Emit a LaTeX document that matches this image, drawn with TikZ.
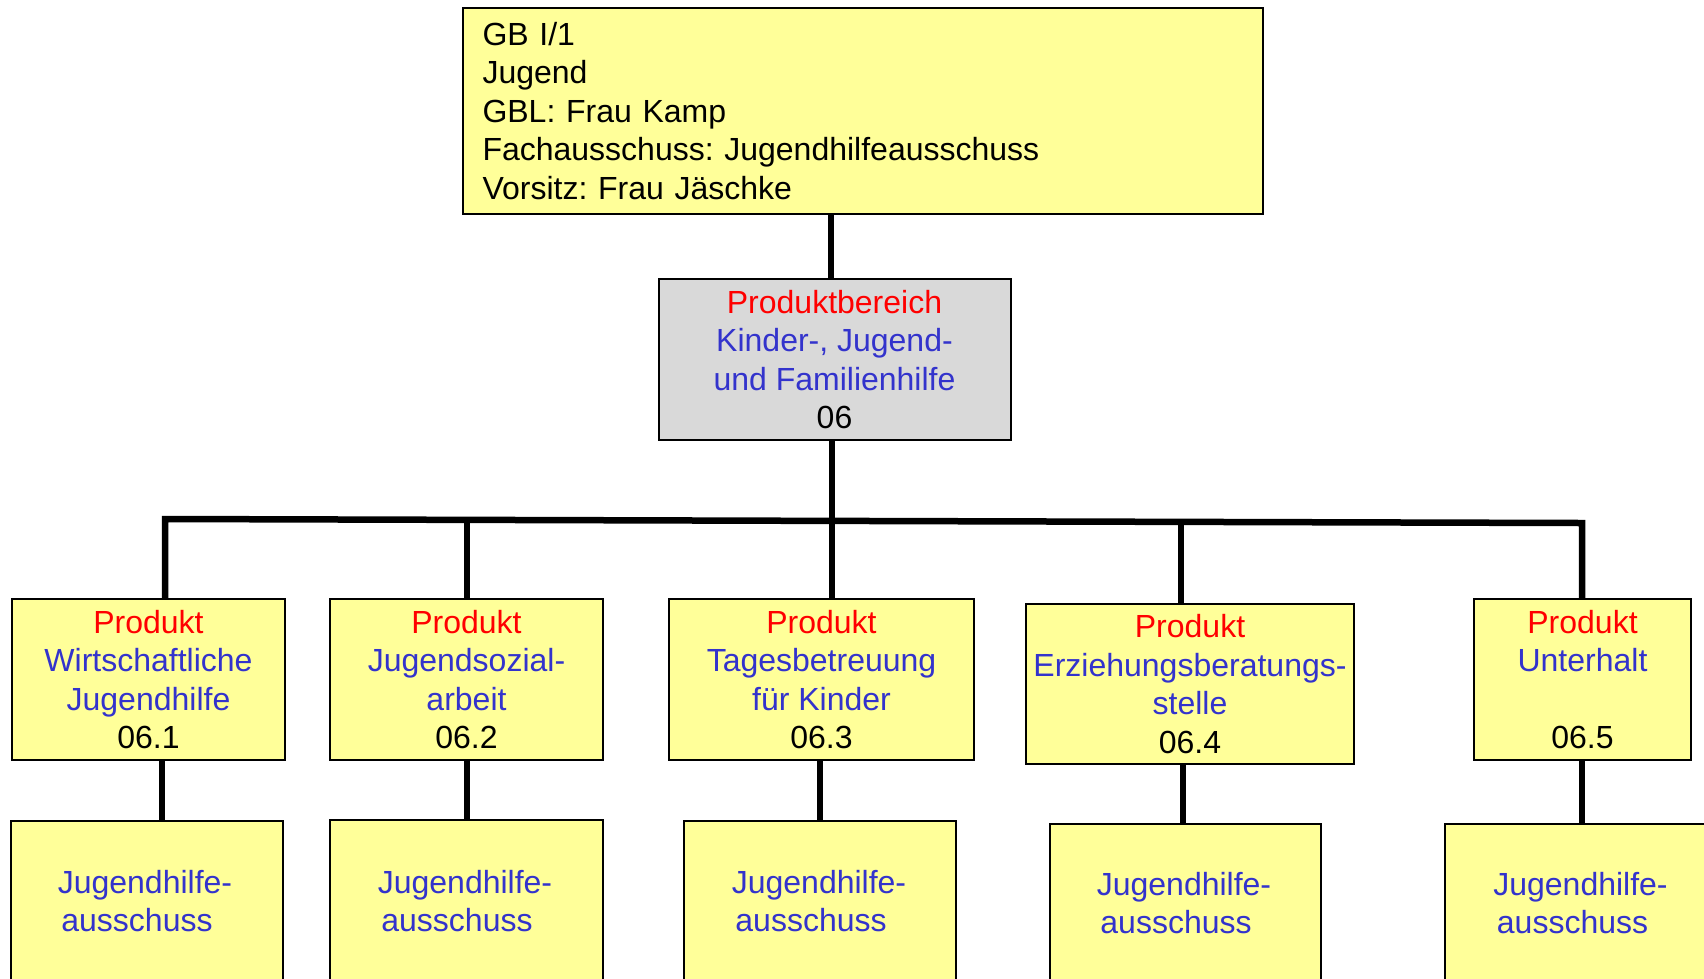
\documentclass[tikz,border=0pt]{standalone}
\usepackage{fontspec}
\setmainfont{Liberation Sans}
\definecolor{boxyellow}{HTML}{FFFF99}
\definecolor{boxgrey}{HTML}{D9D9D9}
\definecolor{txtblue}{HTML}{3333CC}
\definecolor{txtred}{HTML}{FF0000}
\begin{document}
\frenchspacing
\begin{tikzpicture}[x=1pt,y=1pt,
  every node/.style={font=\fontsize{32}{38.5}\selectfont},
  boxy/.style={draw=black, line width=2pt, fill=boxyellow, inner sep=0pt, align=center},
  lowbox/.style={boxy, anchor=north, minimum height=300pt},
  lowtext/.style={text=txtblue, align=center, inner sep=0pt},
  conn/.style={line width=6.5pt}]
\useasboundingbox (0,0) rectangle (1704,-978);

% top box
\node[boxy, minimum width=800pt, minimum height=206pt, text width=761pt, align=left, inner xsep=19.5pt] (top) at (863,-111)
  {GB I/1\\Jugend\\GBL: Frau Kamp\\Fachausschuss: Jugendhilfeausschuss\\Vorsitz: Frau Jäschke};

% product area
\node[boxy, fill=boxgrey, minimum width=352pt, minimum height=161pt] (g) at (834.5,-359.5)
  {\textcolor{txtred}{Produktbereich}\\\textcolor{txtblue}{Kinder-, Jugend-}\\\textcolor{txtblue}{und Familienhilfe}\\06};

% products
\node[boxy, minimum width=273pt, minimum height=161pt] (p1) at (148.5,-679.5)
  {\textcolor{txtred}{Produkt}\\\textcolor{txtblue}{Wirtschaftliche}\\\textcolor{txtblue}{Jugendhilfe}\\06.1};
\node[boxy, minimum width=273pt, minimum height=161pt] (p2) at (466.5,-679.5)
  {\textcolor{txtred}{Produkt}\\\textcolor{txtblue}{Jugendsozial-}\\\textcolor{txtblue}{arbeit}\\06.2};
\node[boxy, minimum width=305pt, minimum height=161pt] (p3) at (821.5,-679.5)
  {\textcolor{txtred}{Produkt}\\\textcolor{txtblue}{Tagesbetreuung}\\\textcolor{txtblue}{für Kinder}\\06.3};
\node[boxy, minimum width=328pt, minimum height=160pt] (p4) at (1190,-684)
  {\textcolor{txtred}{Produkt}\\\textcolor{txtblue}{Erziehungsberatungs-}\\\textcolor{txtblue}{stelle}\\06.4};
\node[boxy, minimum width=217.5pt, minimum height=161pt] (p5) at (1582.5,-679.5)
  {\textcolor{txtred}{Produkt}\\\textcolor{txtblue}{Unterhalt}\\~\\06.5};

% committees
\node[lowbox, minimum width=272pt] (l1) at (147,-820) {};
\node[lowbox, minimum width=273pt] (l2) at (466.5,-819) {};
\node[lowbox, minimum width=272.5pt] (l3) at (820,-820) {};
\node[lowbox, minimum width=271pt] (l4) at (1185.5,-823) {};
\node[lowbox, minimum width=272pt] (l5) at (1581,-823) {};
\node[lowtext] (t1) at (145,-901) {Jugendhilfe-\\ausschuss\rule{16pt}{0pt}};
\node[lowtext] (t2) at (465,-901) {Jugendhilfe-\\ausschuss\rule{16pt}{0pt}};
\node[lowtext] (t3) at (819,-901) {Jugendhilfe-\\ausschuss\rule{16pt}{0pt}};
\node[lowtext] (t4) at (1184,-903) {Jugendhilfe-\\ausschuss\rule{16pt}{0pt}};
\node[lowtext] (t5) at (1580.5,-903) {Jugendhilfe-\\ausschuss\rule{16pt}{0pt}};

% bar coordinates
\coordinate (bl) at (165,-519);
\coordinate (b2) at (467,-520);
\coordinate (b3) at (832,-521);
\coordinate (b4) at (1181,-522);
\coordinate (br) at (1582,-523);

% connectors
\draw[conn] (top.south -| 831,0) -- (g.north -| 831,0);
\draw[conn] (g.south -| b3) -- (b3);
\draw[conn] (bl |- p1.north) -- (bl) -- (br) -- (br |- p5.north);
\draw[conn] (b2) -- (b2 |- p2.north);
\draw[conn] (b3) -- (b3 |- p3.north);
\draw[conn] (b4) -- (b4 |- p4.north);
\draw[conn] (p1.south -| 162,0) -- (l1.north -| 162,0);
\draw[conn] (p2.south -| 467,0) -- (l2.north -| 467,0);
\draw[conn] (p3.south -| 820,0) -- (l3.north -| 820,0);
\draw[conn] (p4.south -| 1183,0) -- (l4.north -| 1183,0);
\draw[conn] (p5.south -| 1582,0) -- (l5.north -| 1582,0);
\end{tikzpicture}
\end{document}
